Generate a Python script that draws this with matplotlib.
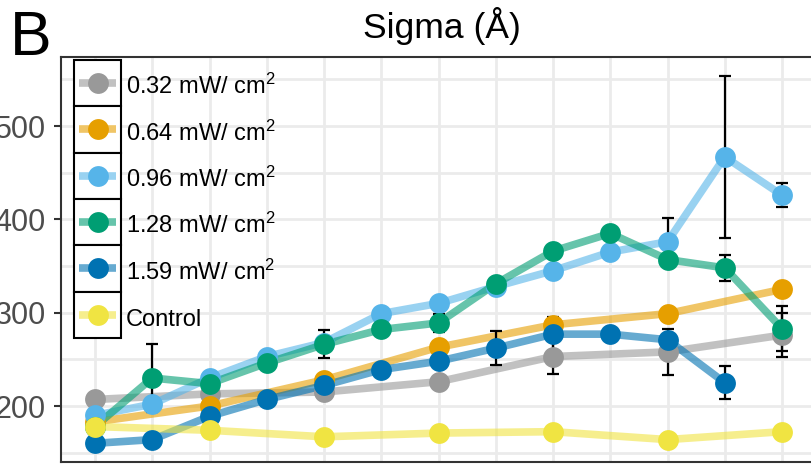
import matplotlib
matplotlib.use("Agg")
import matplotlib.pyplot as plt
import numpy as np
from matplotlib.legend_handler import HandlerBase
from matplotlib.lines import Line2D
from matplotlib.patches import Rectangle

plt.rcParams['font.family'] = ['Liberation Sans', 'DejaVu Sans']
plt.rcParams['mathtext.fontset'] = 'custom'
plt.rcParams['mathtext.rm'] = 'Liberation Sans'
plt.rcParams['mathtext.it'] = 'Liberation Sans:italic'

# Values (Sigma in Angstrom, per time point)
labels = [r"0.32 mW/ cm$^\mathregular{2}$", r"0.64 mW/ cm$^\mathregular{2}$",
          r"0.96 mW/ cm$^\mathregular{2}$", r"1.28 mW/ cm$^\mathregular{2}$",
          r"1.59 mW/ cm$^\mathregular{2}$", "Control"]
colors = ["#999999", "#E69F00", "#56B4E9", "#009E73", "#0072B2", "#F0E442"]

x_odd = [1, 3, 5, 7, 9, 11, 13]
x_all = [1, 2, 3, 4, 5, 6, 7, 8, 9, 10, 11, 12, 13]
x_blue = [1, 2, 3, 4, 5, 6, 7, 8, 9, 10, 11, 12]

sigma_032 = [207, 213, 215, 226, 253, 258, 276]
err_032 = [0, 0, 0, 0, 19, 25, 24]

sigma_064 = [183, 200, 228, 263, 287, 299, 325]
err_064 = [0, 0, 0, 0, 0, 0, 0]

sigma_096 = [190, 202, 230, 253, 268, 299, 310, 328, 345, 365, 376, 467, 426]
err_096 = [0, 0, 0, 4, 0, 0, 0, 0, 0, 0, 26, 87, 13]

sigma_128 = [178, 230, 224, 246, 266, 282, 289, 331, 366, 385, 357, 348, 283]
err_128 = [0, 36, 0, 0, 15, 0, 10, 0, 0, 0, 0, 14, 24]

sigma_159 = [160, 164, 189, 207, 222, 239, 248, 262, 277, 277, 271, 225]
err_159 = [0, 0, 0, 0, 0, 0, 0, 18, 18, 0, 0, 18]

sigma_ctrl = [178, 174, 167, 171, 172.5, 164, 172.5]
err_ctrl = [0, 0, 0, 0, 0, 0, 0]

series = [
    (x_odd, sigma_032, err_032),
    (x_odd, sigma_064, err_064),
    (x_all, sigma_096, err_096),
    (x_all, sigma_128, err_128),
    (x_blue, sigma_159, err_159),
    (x_odd, sigma_ctrl, err_ctrl),
]

KEY_SHIFT = 0.17  # raise the key box a little, in font-size units


class BoxedKey(HandlerBase):
    # ggplot style legend key: white box with black border, line + dot
    def create_artists(self, legend, orig_handle, xdescent, ydescent,
                       width, height, fontsize, trans):
        x0, y0 = -xdescent, -ydescent + KEY_SHIFT * fontsize
        yc = y0 + height / 2
        pad = 0.11 * width
        box = Rectangle((x0, y0), width, height, facecolor="white",
                        edgecolor="black", lw=1.5, transform=trans)
        line = Line2D([x0 + pad, x0 + width - pad], [yc, yc],
                      color=orig_handle.get_color(), lw=orig_handle.get_linewidth(),
                      alpha=orig_handle.get_alpha(), solid_capstyle="butt",
                      transform=trans)
        dot = Line2D([x0 + width / 2], [yc], ls="none", marker="o", ms=15,
                     color=orig_handle.get_color(), mec="none", transform=trans)
        return [box, line, dot]


fig = plt.figure(figsize=(8.12, 4.68), dpi=100)
ax = fig.add_axes([61 / 812, 6 / 468, 762 / 812, 405 / 468])

handles = []
for (xs, ys, es), col, lab in zip(series, colors, labels):
    ln, = ax.plot(xs, ys, color=col, lw=5.5, alpha=0.6, zorder=2, label=lab)
    handles.append(ln)

for (xs, ys, es) in series:
    xs, ys, es = np.array(xs), np.array(ys), np.array(es)
    m = es > 0
    if m.any():
        ax.errorbar(xs[m], ys[m], yerr=es[m], fmt="none", ecolor="black",
                    elinewidth=1.6, capsize=4, capthick=1.6, zorder=3)

for (xs, ys, es), col in zip(series, colors):
    ax.plot(xs, ys, "o", ms=15, color=col, mec="none", zorder=4)

ax.set_xlim(0.406, 13.716)
ax.set_ylim(140, 574)
ax.set_xticks(x_all)
ax.set_xticklabels([])
ax.set_yticks([200, 300, 400, 500])
ax.set_yticks([150, 250, 350, 450, 550], minor=True)
ax.grid(True, which="both", color="#EBEBEB", lw=2, zorder=0)
ax.set_axisbelow(True)
ax.tick_params(axis="x", length=0)
ax.tick_params(axis="y", which="major", length=5, width=1.5, color="#333333",
               labelsize=22, labelcolor="#4D4D4D", pad=6)
ax.tick_params(axis="y", which="minor", length=0)
for sp in ax.spines.values():
    sp.set_color("#333333")
    sp.set_linewidth(1.5)

ax.set_title("Sigma (Å)", fontsize=25.5, pad=14)

# anchor lowered by the same amount the key boxes are raised
ax.legend(handles, labels, loc="upper left", bbox_to_anchor=(0.0171, 0.9826),
          borderaxespad=0, borderpad=0, frameon=False, fontsize=17,
          handlelength=1.99, handleheight=2.64, handletextpad=0.2,
          labelspacing=0, handler_map={Line2D: BoxedKey()})

fig.text(10 / 812, 1 - 55 / 468, "B", fontsize=45, va="baseline")

fig.savefig("out.png", dpi=100)
